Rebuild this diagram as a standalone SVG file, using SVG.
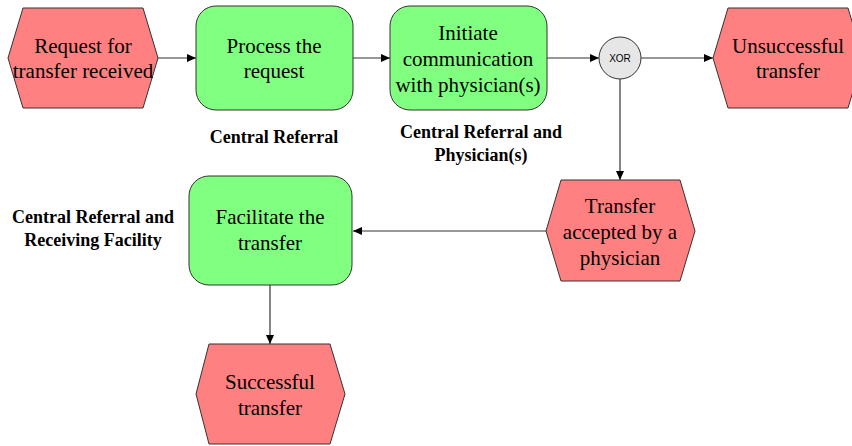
<svg xmlns="http://www.w3.org/2000/svg" width="852" height="446" viewBox="0 0 852 446">
<style>
.ev{fill:#ff8080;stroke:#333;stroke-width:1}
.fn{fill:#80ff80;stroke:#333;stroke-width:1}
.t{font-family:"Liberation Serif","Times New Roman",serif;font-size:21px;fill:#000;text-anchor:middle}
.b{font-family:"Liberation Serif","Times New Roman",serif;font-size:18px;font-weight:bold;fill:#000;text-anchor:middle}
.c{stroke:#333;stroke-width:1.2;fill:none;marker-end:url(#ah)}
</style>
<defs>
<marker id="ah" markerWidth="10" markerHeight="8" refX="9" refY="4" orient="auto" markerUnits="userSpaceOnUse">
<path d="M0,0 L9,4 L0,8 Z" fill="#000"/>
</marker>
</defs>
<rect width="852" height="446" fill="#fff"/>
<g id="connectors">
<line class="c" x1="158" y1="58" x2="196" y2="58"/>
<line class="c" x1="353" y1="58" x2="390" y2="58"/>
<line class="c" x1="547" y1="58" x2="599" y2="58"/>
<line class="c" x1="641" y1="58" x2="713" y2="58"/>
<line class="c" x1="620" y1="79" x2="620" y2="180"/>
<line class="c" x1="546" y1="231" x2="353" y2="231"/>
<line class="c" x1="270" y1="285" x2="270" y2="344"/>
</g>
<g id="request">
<polygon class="ev" points="8,58 23,8 143,8 158,58 143,108 23,108"/>
<text class="t" x="83" y="53">Request for</text>
<text class="t" x="83" y="78">transfer received</text>
</g>
<g id="process">
<rect class="fn" x="196" y="6" width="157" height="104" rx="20"/>
<text class="t" x="274" y="53">Process the</text>
<text class="t" x="274" y="78">request</text>
</g>
<g id="initiate">
<rect class="fn" x="390" y="6" width="157" height="104" rx="20"/>
<text class="t" x="468" y="40">Initiate</text>
<text class="t" x="468" y="66">communication</text>
<text class="t" x="468" y="92">with physician(s)</text>
</g>
<g id="xor">
<circle cx="620" cy="58" r="21" fill="#e6e6e6" stroke="#333" stroke-width="1"/>
<text x="620" y="62" font-family="Liberation Sans,Arial,sans-serif" font-size="10" text-anchor="middle">XOR</text>
</g>
<g id="unsuccessful">
<polygon class="ev" points="713,58 728,8 848,8 863,58 848,108 728,108"/>
<text class="t" x="788" y="53">Unsuccessful</text>
<text class="t" x="788" y="78">transfer</text>
</g>
<g id="accepted">
<polygon class="ev" points="546,231 561,180 680,180 695,231 680,281 561,281"/>
<text class="t" x="620" y="213">Transfer</text>
<text class="t" x="620" y="239">accepted by a</text>
<text class="t" x="620" y="265">physician</text>
</g>
<g id="facilitate">
<rect class="fn" x="189" y="176" width="163" height="109" rx="20"/>
<text class="t" x="270" y="224">Facilitate the</text>
<text class="t" x="270" y="250">transfer</text>
</g>
<g id="successful">
<polygon class="ev" points="196,394 209,344 330,344 345,394 330,444 209,444"/>
<text class="t" x="270" y="389">Successful</text>
<text class="t" x="270" y="415">transfer</text>
</g>
<g id="labels">
<text class="b" x="274" y="143">Central Referral</text>
<text class="b" x="481" y="138">Central Referral and</text>
<text class="b" x="481" y="161">Physician(s)</text>
<text class="b" x="93" y="223">Central Referral and</text>
<text class="b" x="93" y="246">Receiving Facility</text>
</g>
</svg>
